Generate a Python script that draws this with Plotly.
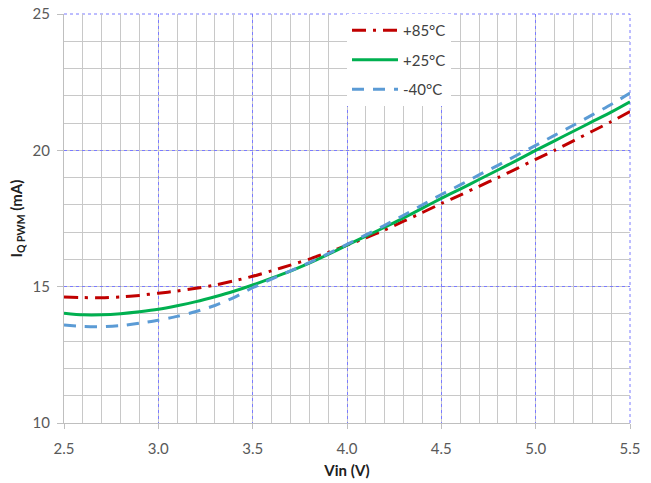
import plotly.graph_objects as go

vin = [2.5, 2.6, 2.7, 2.8, 2.9, 3.0, 3.1, 3.2, 3.3, 3.4, 3.5, 3.6, 3.7, 3.8, 3.9, 4.0,
       4.1, 4.2, 4.3, 4.4, 4.5, 4.6, 4.7, 4.8, 4.9, 5.0, 5.1, 5.2, 5.3, 5.4, 5.5]

iq_85 = [14.62, 14.60, 14.59, 14.62, 14.68, 14.76, 14.84, 14.94, 15.06, 15.21, 15.38,
         15.58, 15.79, 16.01, 16.26, 16.52, 16.79, 17.08, 17.40, 17.72, 18.05, 18.36,
         18.68, 19.00, 19.33, 19.67, 20.00, 20.35, 20.70, 21.05, 21.42]
iq_25 = [14.03, 13.97, 13.97, 14.01, 14.08, 14.17, 14.30, 14.45, 14.63, 14.83, 15.06,
         15.31, 15.57, 15.86, 16.18, 16.52, 16.85, 17.18, 17.52, 17.88, 18.24, 18.58,
         18.93, 19.28, 19.63, 20.00, 20.35, 20.70, 21.05, 21.40, 21.78]
iq_m40 = [13.59, 13.54, 13.53, 13.57, 13.66, 13.77, 13.91, 14.09, 14.31, 14.60, 14.96,
          15.28, 15.58, 15.88, 16.21, 16.55, 16.90, 17.25, 17.62, 18.00, 18.38, 18.73,
          19.10, 19.45, 19.82, 20.18, 20.55, 20.92, 21.30, 21.68, 22.10]

x_ticks = [2.5, 3.0, 3.5, 4.0, 4.5, 5.0, 5.5]
x_tick_labels = ["2.5", "3.0", "3.5", "4.0", "4.5", "5.0", "5.5"]
y_ticks = [10, 15, 20, 25]

series = [
    ("+85°C", iq_85, "#c00000", "14px,7px,3px,7px"),
    ("+25°C", iq_25, "#00b050", "solid"),
    ("-40°C", iq_m40, "#5b9bd5", "12px,9px"),
]

fig = go.Figure()
for i, (name, ys, col, dash) in enumerate(series):
    fig.add_trace(go.Scatter(
        x=vin, y=ys, mode="lines", name=name, legendgroup=f"g{i}",
        line=dict(color=col, width=3, dash=dash, shape="spline", smoothing=0.6),
    ))

major_col = "#7b7bff"
# blue dotted frame on top and right edges (as in the reference)
fig.add_shape(type="line", xref="paper", yref="paper", x0=0, x1=1, y0=1, y1=1,
              line=dict(color=major_col, width=1, dash="dot"), layer="below")
fig.add_shape(type="line", xref="paper", yref="paper", x0=1, x1=1, y0=0, y1=1,
              line=dict(color=major_col, width=1, dash="dot"), layer="below")

font_family = "Lato, 'Open Sans', sans-serif"
fig.update_layout(
    width=651, height=483,
    margin=dict(l=64, r=21, t=14, b=60, autoexpand=False),
    paper_bgcolor="white", plot_bgcolor="white",
    font=dict(family=font_family, size=15, color="#595959"),
    showlegend=True,
    legend=dict(
        x=0.5, y=1.0, xanchor="left", yanchor="top",
        bgcolor="white", borderwidth=0,
        font=dict(size=15, color="#404040"),
        tracegroupgap=7, itemwidth=46,
    ),
    xaxis=dict(
        range=[2.5, 5.5], tickvals=x_ticks, ticktext=x_tick_labels,
        showgrid=True, gridcolor=major_col, griddash="dot", gridwidth=1,
        minor=dict(dtick=0.1, showgrid=True, gridcolor="#c8c8c8", gridwidth=1, griddash="solid"),
        showline=True, linecolor="#bfbfbf", linewidth=1,
        ticks="outside", ticklen=5, tickcolor="#bfbfbf", ticklabelstandoff=7,
        zeroline=False,
        title=dict(text="<b>Vin (V)</b>", font=dict(size=15, color="#202020"), standoff=9),
    ),
    yaxis=dict(
        range=[10, 25], tickvals=y_ticks,
        showgrid=True, gridcolor=major_col, griddash="dot", gridwidth=1,
        minor=dict(dtick=1, showgrid=True, gridcolor="#c8c8c8", gridwidth=1, griddash="solid"),
        showline=True, linecolor="#bfbfbf", linewidth=1,
        ticks="outside", ticklen=6, tickcolor="#bfbfbf", ticklabelstandoff=4,
        zeroline=False,
        title=dict(text="<b>I<sub>Q PWM</sub> (mA)</b>", font=dict(size=15, color="#202020"), standoff=6),
    ),
)

fig.write_html("out.html")
